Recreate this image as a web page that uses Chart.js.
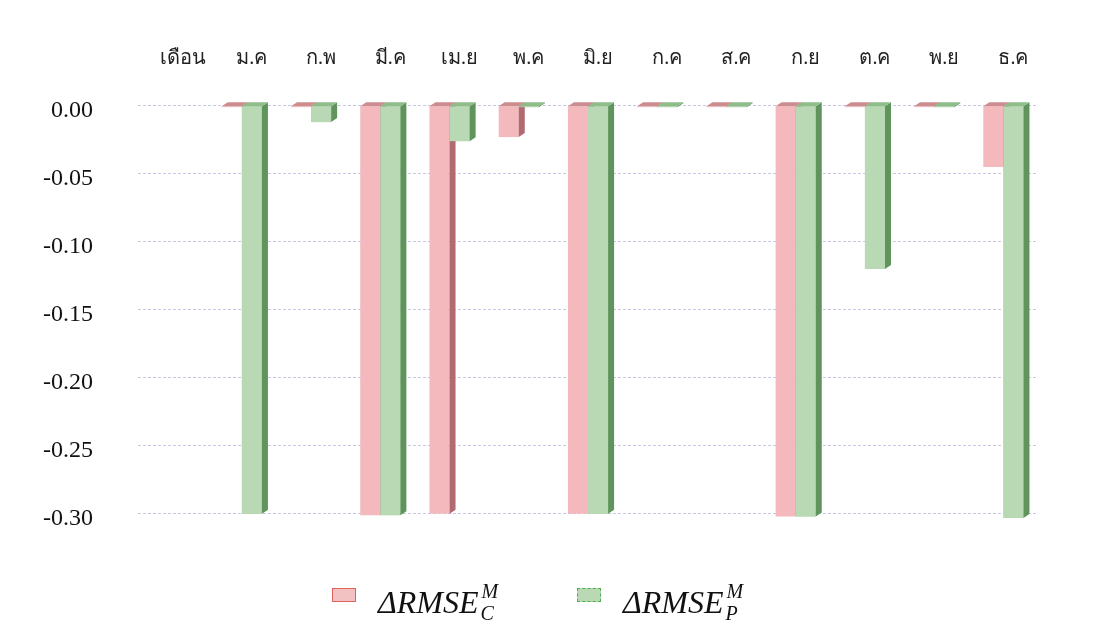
<!DOCTYPE html>
<html>
<head>
<meta charset="utf-8">
<script src="https://cdn.jsdelivr.net/npm/chart.js@4/dist/chart.umd.min.js"></script>
<style>
  html, body { margin: 0; padding: 0; background: #fff; }
  #wrap { position: relative; width: 1098px; height: 625px; overflow: hidden; }
  canvas { display: block; }
  .item { position: absolute; top: 579px; height: 46px; font-family: 'Liberation Serif', 'Times New Roman', serif; color: #111; }
  .box { position: absolute; left: 0; top: 9px; width: 24px; height: 14px; box-sizing: border-box; }
  .box.c { background: #f2c1c1; border: 1.5px solid #e2625e; }
  .box.p { background: #b9d8b4; border: 1.5px dashed #4fae4f; }
  .lbl { position: absolute; left: 46px; top: 0; white-space: nowrap; font-style: italic; }
  .main { font-size: 32px; line-height: 46px; display: inline-block; vertical-align: top; }
  .ss { display: inline-block; position: relative; width: 22px; height: 46px; vertical-align: top; font-size: 20px; }
  .ss span { position: absolute; left: 3px; line-height: 21px; }
  .ss .sup { top: 2px; }
  .ss .sub { top: 24px; left: 2px; }
</style>
</head>
<body>
<div id="wrap">
  <canvas id="chart" width="1098" height="625"></canvas>
  <div class="item" style="left:332px">
    <span class="box c"></span>
    <span class="lbl"><span class="main">ΔRMSE</span><span class="ss"><span class="sup">M</span><span class="sub">C</span></span></span>
  </div>
  <div class="item" style="left:577px">
    <span class="box p"></span>
    <span class="lbl"><span class="main">ΔRMSE</span><span class="ss"><span class="sup">M</span><span class="sub">P</span></span></span>
  </div>
</div>
<script>
// Monthly change in RMSE for the two models (first column is the header cell)
const months = ['เดือน', 'ม.ค', 'ก.พ', 'มี.ค', 'เม.ย', 'พ.ค', 'มิ.ย', 'ก.ค', 'ส.ค', 'ก.ย', 'ต.ค', 'พ.ย', 'ธ.ค'];
const dRmseC = [null, -0.001, -0.001, -0.301, -0.300, -0.023, -0.300, -0.001, -0.001, -0.302, -0.001, -0.001, -0.045];
const dRmseP = [null, -0.300, -0.012, -0.301, -0.026, -0.001, -0.300, -0.001, -0.001, -0.302, -0.120, -0.001, -0.303];
const yTicks = [0, -0.05, -0.10, -0.15, -0.20, -0.25, -0.30];

const palette = {
  c: { front: '#f3b9bc', side: '#b06a70', top: '#cd8d8f' },
  p: { front: '#b8d9b3', side: '#5f955c', top: '#8fbd8a' }
};

// Adds the right-hand side face and top face to every bar, giving the block look
const depthFaces = {
  id: 'depthFaces',
  afterDatasetsDraw(chart) {
    const ctx = chart.ctx;
    const dx = 6, dy = 4;
    const drawBar = (dsIndex, i, pal, withFront) => {
      if (chart.data.datasets[dsIndex].data[i] == null) return;
      const bar = chart.getDatasetMeta(dsIndex).data[i];
      const p = bar.getProps(['x', 'y', 'base', 'width'], true);
      const l = p.x - p.width / 2, r = p.x + p.width / 2;
      const top = Math.min(p.y, p.base), bot = Math.max(p.y, p.base);
      if (withFront) {
        ctx.fillStyle = pal.front;
        ctx.fillRect(l, top, r - l, bot - top);
      }
      ctx.fillStyle = pal.side;
      ctx.beginPath();
      ctx.moveTo(r, top); ctx.lineTo(r + dx, top - dy); ctx.lineTo(r + dx, bot - dy); ctx.lineTo(r, bot);
      ctx.closePath(); ctx.fill();
      ctx.fillStyle = pal.top;
      ctx.beginPath();
      ctx.moveTo(l, top); ctx.lineTo(r, top); ctx.lineTo(r + dx, top - dy); ctx.lineTo(l + dx, top - dy);
      ctx.closePath(); ctx.fill();
    };
    ctx.save();
    for (let i = 0; i < months.length; i++) {
      drawBar(0, i, palette.c, false);
      drawBar(1, i, palette.p, true);
    }
    ctx.restore();
  }
};

new Chart(document.getElementById('chart'), {
  type: 'bar',
  data: {
    labels: months,
    datasets: [
      { label: 'ΔRMSE C', data: dRmseC, backgroundColor: palette.c.front, borderWidth: 0 },
      { label: 'ΔRMSE P', data: dRmseP, backgroundColor: palette.p.front, borderWidth: 0 }
    ]
  },
  options: {
    responsive: false,
    animation: false,
    events: [],
    layout: { padding: { top: 20, right: 60, bottom: 84, left: 0 } },
    datasets: { bar: { categoryPercentage: 0.58, barPercentage: 1.0 } },
    plugins: { legend: { display: false }, tooltip: { enabled: false } },
    scales: {
      x: {
        position: 'top',
        grid: { display: false },
        border: { display: false },
        ticks: {
          font: { family: "'Liberation Serif', serif", size: 20 },
          color: '#222',
          labelOffset: 10,
          padding: 20,
          maxRotation: 0
        },
        afterFit(s) { s.height = 79; }
      },
      y: {
        min: -0.32,
        max: 0.005,
        afterBuildTicks(s) { s.ticks = yTicks.map(v => ({ value: v })); },
        grid: { color: 'rgba(175,175,215,0.7)', lineWidth: 1, drawTicks: false },
        border: { display: false, dash: [3, 2] },
        ticks: {
          font: { family: "'Liberation Serif', serif", size: 24 },
          color: '#111',
          padding: 45,
          labelOffset: 5,
          callback: v => (Math.abs(v) < 1e-9 ? 0 : v).toFixed(2)
        },
        afterFit(s) { s.width = 138; }
      }
    }
  },
  plugins: [depthFaces]
});
</script>
</body>
</html>
